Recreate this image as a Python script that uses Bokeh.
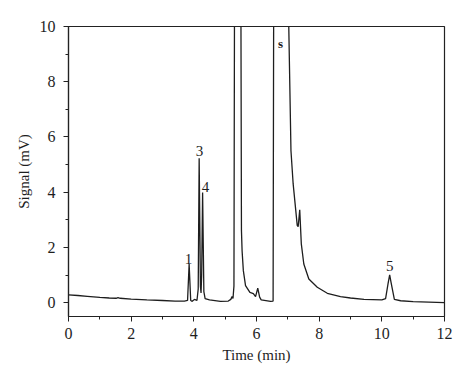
from bokeh.plotting import figure
from bokeh.models import Range1d, SingleIntervalTicker
from bokeh.core.properties import value
from bokeh.embed import file_html
from bokeh.resources import INLINE

# Chromatogram trace (time in min, signal in mV)
time_min = [0.0, 0.3, 0.6, 1.0, 1.3, 1.52, 1.58, 1.65, 2.0, 2.5, 3.0, 3.4, 3.7,
            3.80, 3.85, 3.90, 3.95, 4.02, 4.06, 4.10, 4.14, 4.17, 4.21, 4.23, 4.25,
            4.28, 4.32, 4.36, 4.5, 4.85, 5.1, 5.18, 5.22, 5.25, 5.28, 5.30, 5.40,
            5.50, 5.52, 5.54, 5.58, 5.65, 5.79, 5.90, 5.97, 6.04, 6.10, 6.15, 6.45,
            6.53, 6.55, 6.80, 7.03, 7.10, 7.17, 7.30, 7.33, 7.38, 7.43, 7.51,
            7.67, 7.94, 8.26, 8.68, 9.0, 9.43, 10.0, 10.12, 10.20, 10.25,
            10.30, 10.40, 10.6, 11.0, 11.5, 12.0]
signal_mv = [0.28, 0.26, 0.23, 0.19, 0.17, 0.16, 0.18, 0.16, 0.13, 0.10, 0.08, 0.06, 0.06,
             0.08, 1.40, 0.08, 0.05, 0.12, 0.10, 0.08, 0.50, 5.23, 0.60, 0.35, 1.00,
             3.99, 0.40, 0.15, 0.10, 0.05, 0.06, 0.12, 0.22, 0.15, 0.60, 12.0, 30.0,
             12.0, 2.6, 1.88, 1.16, 0.62, 0.37, 0.33, 0.22, 0.53, 0.20, 0.10, 0.05,
             0.06, 12.0, 40.0, 10.0, 5.5, 4.3, 2.8, 2.75, 3.36, 2.13, 1.40,
             0.86, 0.56, 0.34, 0.22, 0.17, 0.12, 0.10, 0.15, 0.70, 1.01,
             0.70, 0.12, 0.07, 0.04, 0.02, 0.0]

# Peak labels
peak_names = ["1", "3", "4", "5"]
peak_t = [3.83, 4.18, 4.37, 10.25]
peak_y = [1.6, 5.5, 4.2, 1.34]
solvent_name = ["s"]
solvent_t = [6.77]
solvent_y = [9.38]

x_ticks_interval = 2
y_ticks_interval = 2

FONT = "Liberation Serif"
INK = "#1e1e1e"

p = figure(width=466, height=379, output_backend="svg", toolbar_location=None,
           x_range=Range1d(0, 12), y_range=Range1d(-0.5, 10),
           min_border_left=68, min_border_right=22, min_border_top=26,
           min_border_bottom=63)

p.line(time_min, signal_mv, line_color=INK, line_width=1.3)

p.text(x=peak_t, y=peak_y, text=peak_names, text_font=value(FONT),
       text_font_size="15px", text_align="center", text_baseline="middle",
       text_color=INK)
p.text(x=solvent_t, y=solvent_y, text=solvent_name, text_font=value(FONT),
       text_font_size="13px", text_font_style="bold", text_align="center",
       text_baseline="middle", text_color=INK)

p.xgrid.visible = False
p.ygrid.visible = False
p.background_fill_color = "white"
p.border_fill_color = "white"
p.outline_line_color = "#222222"
p.outline_line_width = 1.2

for ax, interval in ((p.xaxis[0], x_ticks_interval), (p.yaxis[0], y_ticks_interval)):
    ax.ticker = SingleIntervalTicker(interval=interval, num_minor_ticks=2)
    ax.axis_line_color = "#222222"
    ax.axis_line_width = 1.2
    ax.major_tick_line_color = "#222222"
    ax.minor_tick_line_color = "#222222"
    ax.major_tick_in = 0
    ax.major_tick_out = 5
    ax.minor_tick_in = 0
    ax.minor_tick_out = 3
    ax.major_label_text_font = FONT
    ax.major_label_text_font_size = "16px"
    ax.major_label_text_color = INK
    ax.axis_label_text_font = FONT
    ax.axis_label_text_font_size = "15px"
    ax.axis_label_text_font_style = "normal"
    ax.axis_label_text_color = INK

p.xaxis.axis_label = "Time (min)"
p.yaxis.axis_label = "Signal (mV)"
p.xaxis.major_label_standoff = 6
p.yaxis.major_label_standoff = 8
p.xaxis.axis_label_standoff = 5
p.yaxis.axis_label_standoff = 5

open("out.html", "w").write(file_html(p, INLINE))
